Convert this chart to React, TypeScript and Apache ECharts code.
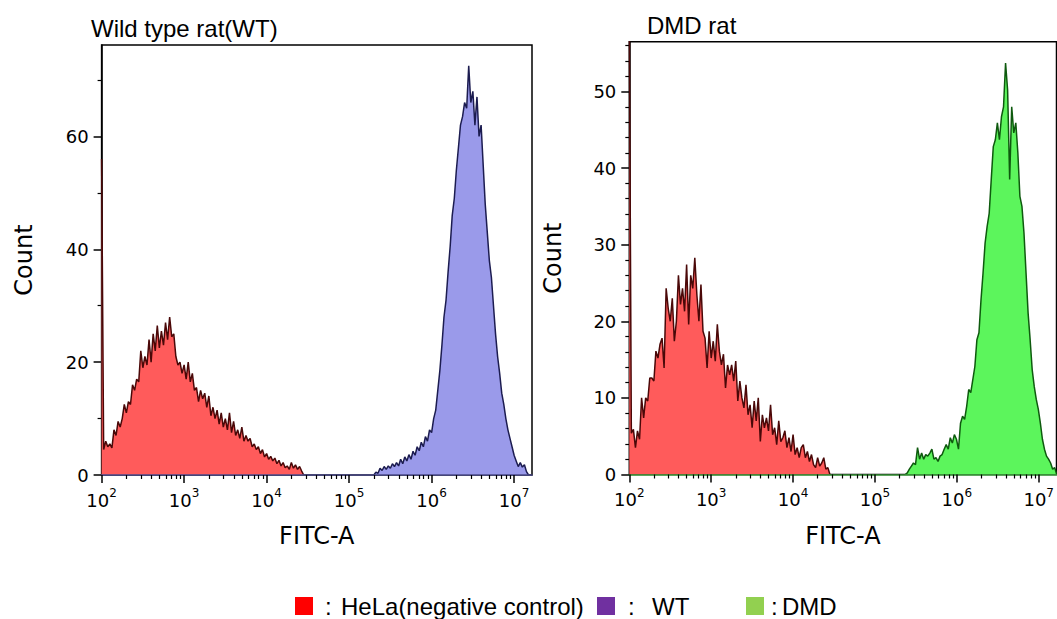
import React, { useEffect, useRef } from "react";
import * as echarts from "echarts";

// Histogram bins are evenly spaced on the log10 intensity scale
const BIN_WIDTH = 0.025;

// Wild type rat panel
const HELA_WT_START = 2;
const HELA_WT = [56, 4.5, 6, 5, 5.5, 4.8, 8, 7, 9.5, 8.5, 10, 12.5, 11, 13, 12.5, 16, 15, 17, 16.5, 22, 19, 21, 19.5, 24, 20, 25, 22, 26.5, 22.5, 25.5, 23, 27, 24, 28, 24.5, 25, 21, 19.5, 20, 18, 19.5, 17, 20, 16.5, 18, 15, 15.5, 13, 15, 13.5, 14.5, 12, 14, 10.5, 12, 10, 11.5, 9, 11, 8.5, 10, 8, 11, 7.5, 9.5, 7, 8, 6.5, 8.5, 6, 7, 6, 6.5, 5, 5.5, 4.5, 5, 3.8, 4.5, 3.2, 3.8, 2.8, 3.3, 2.5, 3, 2, 2.6, 1.6, 2.2, 1.3, 1.6, 1, 2.2, 1.2, 1.8, 1, 1.5, 0.7, 0];
const WT_START = 5.3;
const WT = [0, 0.5, 0.3, 1.2, 0.8, 1.5, 1, 1.6, 1.2, 2, 1.5, 2.2, 1.6, 2.8, 2, 3.2, 2.5, 3.6, 2.8, 4.2, 3.5, 5, 4.3, 5.8, 5, 6.8, 6, 8, 7.5, 10, 11.5, 15, 18.5, 23, 28, 31, 36, 40.5, 46, 49, 54, 58, 62, 63.5, 66, 65, 72.5, 66, 68, 62, 67, 60, 62, 55, 48, 43, 38, 35, 30, 25, 21, 18, 14.5, 12.5, 10, 8, 6.5, 5, 3.5, 2.5, 1.5, 2.2, 1.4, 1.8, 0.6, 0];

// DMD rat panel
const HELA_DMD_START = 2;
const HELA_DMD = [60, 5.4, 5.9, 3.5, 5.7, 4.6, 10, 7.4, 10, 9.6, 12.6, 12.6, 12.2, 16.1, 15.2, 17, 17.8, 13.9, 24.3, 21.7, 20, 23, 17.4, 20, 26, 22.2, 24.3, 21.3, 27.4, 19.6, 26, 24.3, 28.3, 23.5, 20, 24.8, 18.7, 17.8, 13.9, 18.7, 15.2, 17.4, 14.8, 19.6, 16.1, 14.3, 15.7, 11.3, 14.3, 13, 14.3, 12.2, 14.8, 9.6, 12.2, 10, 8.7, 11.7, 7.8, 9.1, 6.1, 9.6, 7, 10, 4.3, 7.8, 6.1, 7.4, 5.7, 9.1, 5.2, 6.1, 3.9, 7, 4.3, 4.8, 5.7, 3.5, 4.8, 3, 5.2, 2.6, 3.5, 2.2, 3.5, 3.9, 2.2, 3, 1.7, 2.6, 1.3, 0.9, 2.2, 1.1, 1.5, 2.2, 0.7, 0.9, 0];
const DMD_START = 5.37;
const DMD = [0, 0.2, 0.7, 1.1, 1.5, 1.3, 3.5, 2, 2.8, 2, 2.6, 2.4, 2.8, 3.3, 2, 2.2, 1.7, 2.4, 2.6, 3.3, 3.9, 3.3, 4.8, 4.1, 5.2, 4.6, 3.3, 6.7, 7.6, 7.2, 8.9, 11.1, 10.7, 12.4, 14.1, 17.6, 18.5, 22.8, 26.3, 30.2, 32.4, 34.1, 38.5, 42.8, 43.7, 45.9, 43.7, 46.7, 48, 53.7, 50.2, 38.5, 48, 44.6, 45.9, 42, 36.3, 35, 31.5, 26.3, 21.1, 17.6, 13.7, 11.5, 9.8, 8.5, 6.7, 4.6, 3.3, 2.4, 2, 1.5, 0.7, 0.9, 0];

// Axes
const X_MIN = 100;
const X_MAX = 1.648e7;
const MAJOR_X_TICKS = [1e2, 1e3, 1e4, 1e5, 1e6, 1e7];
const MINOR_X_MULTIPLIERS = [2, 3, 4, 5, 6, 7, 8, 9];

const WT_Y_MAX = 76.2;
const WT_Y_TICKS = [0, 20, 40, 60];
const WT_Y_MINOR = [10, 30, 50, 70];
const DMD_Y_MAX = 56.5;
const DMD_Y_TICKS = [0, 10, 20, 30, 40, 50];
const DMD_Y_MINOR = [2, 4, 6, 8, 12, 14, 16, 18, 22, 24, 26, 28, 32, 34, 36, 38, 42, 44, 46, 48, 52, 54, 56];

const TITLES = ["Wild type rat(WT)", "DMD rat"];
const LEGEND = [
  { name: "HeLa(negative control)", color: "#ff0000" },
  { name: "WT", color: "#7030a0" },
  { name: "DMD", color: "#92d050" },
];

const COLORS = {
  helaFill: "#ff5b5b",
  helaLine: "#4a0808",
  wtFill: "#9a9aea",
  wtLine: "#1c1c50",
  dmdFill: "#5cf55c",
  dmdLine: "#0e5a0e",
};

const toPoints = (vals: number[], start: number) =>
  vals.map((v, i) => [Math.pow(10, start + i * BIN_WIDTH), v]);

const MINOR_X_TICKS = MAJOR_X_TICKS.flatMap((p) => MINOR_X_MULTIPLIERS.map((m) => m * p)).filter(
  (v) => v < X_MAX
);

const TICK_FONT = "DejaVu Sans";
const NAME_FONT = "DejaVu Sans";
const TITLE_FONT = "Liberation Sans";

function mainX(gridIndex: number, lineColor: string) {
  return {
    type: "log",
    logBase: 10,
    gridIndex,
    min: X_MIN,
    max: X_MAX,
    position: "bottom",
    z: 3,
    axisLine: { show: true, onZero: false, lineStyle: { color: lineColor, width: 1.5 } },
    axisTick: { show: true, customValues: MAJOR_X_TICKS, length: 8, lineStyle: { color: "#000", width: 1.5 } },
    axisLabel: {
      customValues: MAJOR_X_TICKS,
      margin: 12,
      fontSize: 18,
      fontFamily: TICK_FONT,
      color: "#000",
      formatter: (v: number) => `{b|10}{s|${Math.round(Math.log10(v))}}`,
      rich: {
        b: { fontSize: 18, fontFamily: TICK_FONT, color: "#000", lineHeight: 22, verticalAlign: "bottom" },
        s: { fontSize: 12, fontFamily: TICK_FONT, color: "#000", lineHeight: 14, verticalAlign: "top" },
      },
    },
    splitLine: { show: false },
    minorTick: { show: false },
    name: "FITC-A",
    nameLocation: "middle",
    nameGap: 49,
    nameTextStyle: { fontFamily: NAME_FONT, fontSize: 24, color: "#000" },
  };
}

function minorX(gridIndex: number) {
  return {
    type: "log",
    logBase: 10,
    gridIndex,
    min: X_MIN,
    max: X_MAX,
    position: "bottom",
    z: 3,
    axisLine: { show: false },
    axisTick: { show: true, customValues: MINOR_X_TICKS, length: 4, lineStyle: { color: "#000", width: 1.2 } },
    axisLabel: { show: false },
    splitLine: { show: false },
  };
}

function mainY(gridIndex: number, max: number, ticks: number[], gap: number) {
  return {
    type: "value",
    gridIndex,
    min: 0,
    max,
    position: "left",
    axisLine: { show: true, lineStyle: { color: "#000", width: 1.5 } },
    axisTick: { show: true, customValues: ticks, length: 8, lineStyle: { color: "#000", width: 1.5 } },
    axisLabel: { customValues: ticks, margin: 13, fontSize: 18, fontFamily: TICK_FONT, color: "#000" },
    splitLine: { show: false },
    name: "Count",
    nameLocation: "middle",
    nameGap: gap,
    nameTextStyle: { fontFamily: NAME_FONT, fontSize: 24, color: "#000" },
  };
}

function minorY(gridIndex: number, max: number, ticks: number[]) {
  return {
    type: "value",
    gridIndex,
    min: 0,
    max,
    position: "left",
    axisLine: { show: false },
    axisTick: { show: true, customValues: ticks, length: 4, lineStyle: { color: "#000", width: 1.2 } },
    axisLabel: { show: false },
    splitLine: { show: false },
  };
}

function histSeries(name: string, vals: number[], start: number, xi: number, yi: number, fill: string, line: string) {
  return {
    name,
    type: "line",
    xAxisIndex: xi,
    yAxisIndex: yi,
    data: toPoints(vals, start),
    symbol: "none",
    showSymbol: false,
    clip: true,
    lineStyle: { color: line, width: 1.5 },
    itemStyle: { color: line },
    areaStyle: { color: fill, opacity: 1 },
    z: 2,
  };
}

export default function App() {
  const ref = useRef<HTMLDivElement>(null);

  useEffect(() => {
    if (!ref.current) return;
    const chart = echarts.init(ref.current, null, { renderer: "svg" });

    const legendGraphics: any[] = [];
    const legendPos = [
      { sq: 295, colon: 325, text: 341 },
      { sq: 597, colon: 628, text: 652 },
      { sq: 746, colon: 771, text: 782 },
    ];
    LEGEND.forEach((item, i) => {
      const p = legendPos[i];
      legendGraphics.push({
        type: "rect",
        shape: { x: p.sq, y: 597, width: 18, height: 18 },
        style: { fill: item.color },
      });
      legendGraphics.push({
        type: "text",
        x: p.colon,
        y: 606,
        style: { text: ":", fontSize: 24, fontFamily: TITLE_FONT, fill: "#000", verticalAlign: "middle" },
      });
      legendGraphics.push({
        type: "text",
        x: p.text,
        y: 606,
        style: { text: item.name, fontSize: 24, fontFamily: TITLE_FONT, fill: "#000", verticalAlign: "middle" },
      });
    });

    chart.setOption({
      animation: false,
      backgroundColor: "#ffffff",
      title: [
        {
          text: TITLES[0],
          left: 91,
          top: 16,
          padding: 0,
          textStyle: { fontFamily: TITLE_FONT, fontSize: 24, fontWeight: "normal", color: "#000" },
        },
        {
          text: TITLES[1],
          left: 647,
          top: 13,
          padding: 0,
          textStyle: { fontFamily: TITLE_FONT, fontSize: 24, fontWeight: "normal", color: "#000" },
        },
      ],
      grid: [
        { left: 101.6, right: 525, top: 45, bottom: 144, show: true, borderColor: "#000", borderWidth: 1.5, backgroundColor: "transparent" },
        { left: 629.3, right: -4.3, top: 41.7, bottom: 144.5, show: true, borderColor: "#000", borderWidth: 1.5, backgroundColor: "transparent" },
      ],
      xAxis: [mainX(0, "#4a4a8a"), minorX(0), mainX(1, "#3c9a3c"), minorX(1)],
      yAxis: [
        mainY(0, WT_Y_MAX, WT_Y_TICKS, 66),
        minorY(0, WT_Y_MAX, WT_Y_MINOR),
        mainY(1, DMD_Y_MAX, DMD_Y_TICKS, 64),
        minorY(1, DMD_Y_MAX, DMD_Y_MINOR),
      ],
      series: [
        histSeries("HeLa(negative control)", HELA_WT, HELA_WT_START, 0, 0, COLORS.helaFill, COLORS.helaLine),
        histSeries("WT", WT, WT_START, 0, 0, COLORS.wtFill, COLORS.wtLine),
        histSeries("HeLa(negative control)", HELA_DMD, HELA_DMD_START, 2, 2, COLORS.helaFill, COLORS.helaLine),
        histSeries("DMD", DMD, DMD_START, 2, 2, COLORS.dmdFill, COLORS.dmdLine),
      ],
      graphic: legendGraphics,
    });

    return () => chart.dispose();
  }, []);

  return (
    <div
      ref={ref}
      style={{ position: "absolute", left: 0, top: 0, width: 1057, height: 619, overflow: "hidden" }}
    />
  );
}
